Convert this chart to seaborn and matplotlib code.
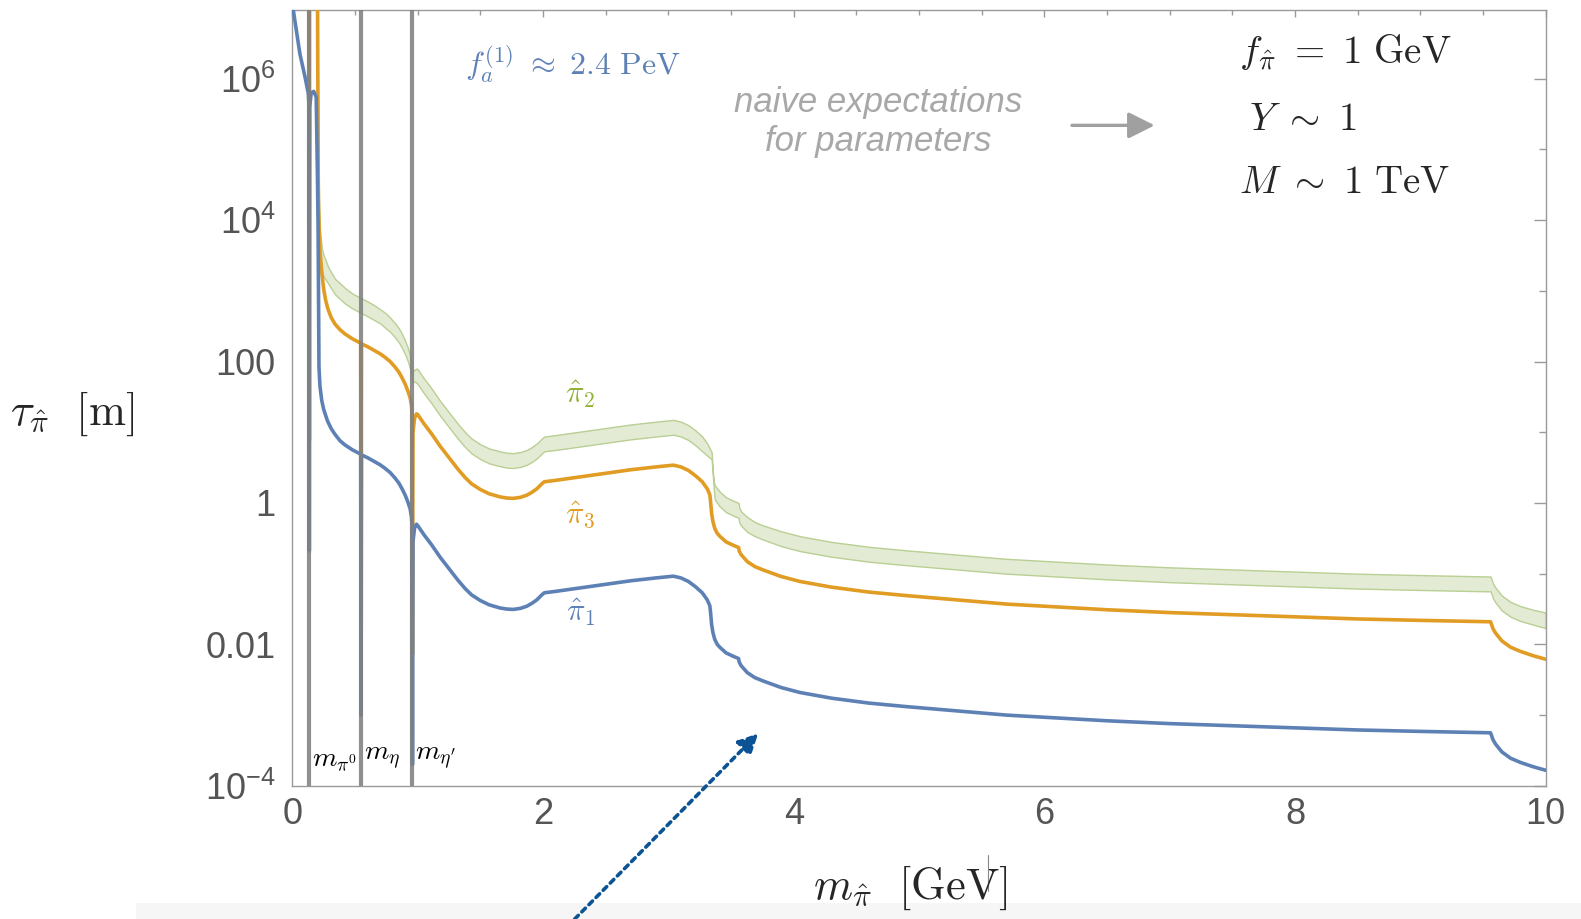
import matplotlib
matplotlib.use("Agg")
import numpy as np
from matplotlib import pyplot as plt
from matplotlib.patches import Rectangle
from matplotlib.lines import Line2D
import seaborn as sns

# ---- data (mass in GeV, log10 of tau in m) ----
mass_pi1 = [0.0, 0.007, 0.03, 0.06, 0.1, 0.127, 0.133, 0.135, 0.138, 0.15, 0.17, 0.19,
            0.2, 0.205, 0.207, 0.21, 0.212, 0.22, 0.234, 0.25, 0.28, 0.31, 0.34, 0.38,
            0.42, 0.48, 0.545, 0.548, 0.551, 0.6, 0.65, 0.7, 0.739, 0.78, 0.82, 0.85,
            0.875, 0.9, 0.92, 0.939, 0.95, 0.954, 0.958, 0.962, 0.975, 0.99, 1.0, 1.05,
            1.11, 1.18, 1.25, 1.32, 1.378, 1.43, 1.5, 1.57, 1.657, 1.71, 1.763, 1.82,
            1.87, 1.91, 1.95, 1.99, 2.01, 2.1, 2.3, 2.46, 2.7, 2.9, 3.04, 3.1,
            3.16, 3.22, 3.27, 3.31, 3.33, 3.335, 3.345, 3.355, 3.37, 3.39, 3.41, 3.46,
            3.52, 3.56, 3.565, 3.58, 3.63, 3.69, 3.76, 3.9, 4.05, 4.3, 4.6, 4.9,
            5.3, 5.7, 6.1, 6.5, 7.0, 7.5, 8.0, 8.5, 9.0, 9.56, 9.58, 9.6,
            9.65, 9.72, 9.8, 9.9, 10.0]
logtau_pi1 = [7.3, 6.97, 6.7, 6.35, 6.03, 5.79, 5.6, -0.68, 5.6, 5.8, 5.82, 5.74,
              4.6, 3.9, 3.33, 2.5, 1.92, 1.65, 1.45, 1.32, 1.16, 1.05, 0.97, 0.88,
              0.82, 0.75, 0.69, -3.0, 0.68, 0.64, 0.59, 0.54, 0.49, 0.43, 0.35, 0.28,
              0.2, 0.11, 0.02, -0.08, -0.2, -0.3, -3.7, -0.55, -0.35, -0.3, -0.32, -0.45,
              -0.59, -0.77, -0.93, -1.09, -1.21, -1.3, -1.38, -1.44, -1.485, -1.5, -1.505, -1.49,
              -1.46, -1.42, -1.37, -1.3, -1.27, -1.25, -1.2, -1.16, -1.1, -1.06, -1.035, -1.06,
              -1.11, -1.19, -1.27, -1.37, -1.45, -1.52, -1.72, -1.83, -1.93, -2.0, -2.04, -2.12,
              -2.17, -2.2, -2.25, -2.3, -2.4, -2.47, -2.52, -2.61, -2.68, -2.76, -2.83, -2.88,
              -2.94, -3.0, -3.04, -3.08, -3.12, -3.15, -3.18, -3.21, -3.23, -3.25, -3.35, -3.41,
              -3.52, -3.61, -3.67, -3.73, -3.78]

mass_pi3 = [0.0, 0.130, 0.133, 0.135, 0.137, 0.2, 0.205, 0.207, 0.212, 0.22, 0.235, 0.25,
            0.265, 0.284, 0.31, 0.34, 0.38, 0.42, 0.48, 0.545, 0.548, 0.551, 0.6, 0.65,
            0.7, 0.739, 0.78, 0.82, 0.85, 0.875, 0.9, 0.92, 0.939, 0.95, 0.954, 0.958,
            0.962, 0.975, 0.99, 1.0, 1.05, 1.11, 1.18, 1.25, 1.32, 1.378, 1.43, 1.5,
            1.57, 1.657, 1.71, 1.763, 1.82, 1.87, 1.91, 1.95, 1.99, 2.01, 2.1, 2.3,
            2.46, 2.7, 2.9, 3.04, 3.1, 3.16, 3.22, 3.27, 3.31, 3.33, 3.335, 3.345,
            3.355, 3.37, 3.39, 3.41, 3.46, 3.52, 3.56, 3.565, 3.58, 3.63, 3.69, 3.76,
            3.9, 4.05, 4.3, 4.6, 4.9, 5.3, 5.7, 6.1, 6.5, 7.0, 7.5, 8.0,
            8.5, 9.0, 9.56, 9.58, 9.6, 9.65, 9.72, 9.8, 9.9, 10.0]
logtau_pi3 = [7.5, 7.5, 7.3, 0.88, 7.3, 7.3, 5.0, 4.28, 3.95, 3.57, 3.25, 3.02,
              2.87, 2.74, 2.62, 2.53, 2.45, 2.39, 2.32, 2.26, -1.46, 2.25, 2.21, 2.16,
              2.11, 2.06, 2.0, 1.92, 1.85, 1.77, 1.68, 1.59, 1.49, 1.38, 1.3, -2.14,
              1.0, 1.2, 1.26, 1.25, 1.12, 0.98, 0.8, 0.64, 0.48, 0.36, 0.27, 0.19,
              0.13, 0.086, 0.07, 0.065, 0.08, 0.11, 0.15, 0.2, 0.27, 0.3, 0.32, 0.37,
              0.41, 0.47, 0.51, 0.535, 0.51, 0.46, 0.38, 0.3, 0.2, 0.12, 0.05, -0.15,
              -0.26, -0.36, -0.43, -0.47, -0.55, -0.6, -0.63, -0.68, -0.73, -0.83, -0.9, -0.95,
              -1.04, -1.11, -1.19, -1.26, -1.31, -1.37, -1.43, -1.47, -1.51, -1.55, -1.58, -1.61,
              -1.64, -1.66, -1.68, -1.78, -1.84, -1.95, -2.04, -2.1, -2.16, -2.21]

mass_pi2 = [0.2, 0.205, 0.21, 0.215, 0.22, 0.235, 0.25, 0.287, 0.34, 0.42, 0.48, 0.545,
            0.6, 0.65, 0.7, 0.739, 0.78, 0.82, 0.85, 0.875, 0.9, 0.92, 0.939, 0.95,
            0.958, 0.97, 0.99, 1.0, 1.05, 1.11, 1.18, 1.25, 1.32, 1.378, 1.43, 1.5,
            1.57, 1.657, 1.71, 1.763, 1.82, 1.87, 1.91, 1.95, 1.99, 2.01, 2.1, 2.3,
            2.46, 2.7, 2.9, 3.04, 3.1, 3.16, 3.22, 3.27, 3.31, 3.33, 3.345, 3.352,
            3.362, 3.37, 3.41, 3.46, 3.52, 3.56, 3.565, 3.58, 3.63, 3.69, 3.76, 3.9,
            4.05, 4.3, 4.6, 4.9, 5.3, 5.7, 6.1, 6.5, 7.0, 7.5, 8.0, 8.5,
            9.0, 9.56, 9.58, 9.6, 9.65, 9.72, 9.8, 9.9, 10.0]
logtau_pi2_hi = [7.3, 5.3, 4.6, 4.1, 3.85, 3.6, 3.5, 3.33, 3.17, 3.04, 2.96, 2.9,
                 2.85, 2.8, 2.74, 2.69, 2.62, 2.54, 2.47, 2.39, 2.29, 2.2, 2.08, 1.98,
                 1.85, 1.88, 1.9, 1.89, 1.76, 1.62, 1.44, 1.28, 1.12, 1.0, 0.91, 0.83,
                 0.77, 0.73, 0.71, 0.705, 0.72, 0.75, 0.79, 0.84, 0.91, 0.94, 0.96, 1.01,
                 1.05, 1.11, 1.15, 1.175, 1.15, 1.1, 1.02, 0.94, 0.84, 0.77, 0.72, 0.5,
                 0.3, 0.25, 0.16, 0.08, 0.03, 0.0, -0.06, -0.12, -0.2, -0.27, -0.32, -0.4,
                 -0.47, -0.55, -0.62, -0.67, -0.73, -0.79, -0.83, -0.87, -0.91, -0.94, -0.97, -1.0,
                 -1.02, -1.04, -1.14, -1.2, -1.31, -1.4, -1.46, -1.51, -1.55]
logtau_pi2_lo = [7.3, 5.0, 4.2, 3.75, 3.45, 3.28, 3.2, 3.1, 2.95, 2.82, 2.75, 2.69,
                 2.64, 2.59, 2.54, 2.48, 2.42, 2.34, 2.27, 2.19, 2.1, 2.01, 1.9, 1.8,
                 1.7, 1.72, 1.7, 1.68, 1.55, 1.41, 1.23, 1.07, 0.91, 0.79, 0.7, 0.62,
                 0.56, 0.52, 0.5, 0.495, 0.51, 0.54, 0.58, 0.63, 0.7, 0.73, 0.75, 0.8,
                 0.84, 0.9, 0.94, 0.965, 0.94, 0.89, 0.81, 0.73, 0.67, 0.64, 0.62, 0.45,
                 0.2, 0.05, -0.05, -0.13, -0.18, -0.21, -0.27, -0.32, -0.41, -0.47, -0.52, -0.61,
                 -0.68, -0.76, -0.83, -0.88, -0.94, -1.0, -1.04, -1.08, -1.12, -1.15, -1.18, -1.21,
                 -1.23, -1.25, -1.35, -1.41, -1.52, -1.61, -1.67, -1.72, -1.77]

meson_masses = [0.135, 0.548, 0.958]
meson_labels = [r"$m_{\pi^0}$", r"$m_{\eta}$", r"$m_{\eta'}$"]

ytick_vals = [1e-4, 1e-2, 1, 1e2, 1e4, 1e6]
ytick_labels = [r"$10^{-4}$", "0.01", "1", "100", r"$10^{4}$", r"$10^{6}$"]
ytick_minor = [1e-3, 1e-1, 1e1, 1e3, 1e5]
xtick_vals = [0, 2, 4, 6, 8, 10]

BLUE = "#5E81B5"
ORANGE = "#E19C24"
GREEN = "#8FB032"
GRAY_TXT = "#555555"

sns.set_style("white")
plt.rcParams["font.family"] = ["Liberation Sans", "DejaVu Sans"]
plt.rcParams["mathtext.fontset"] = "custom"
plt.rcParams["mathtext.rm"] = "Liberation Sans"
plt.rcParams["mathtext.it"] = "Liberation Sans:italic"
plt.rcParams["mathtext.bf"] = "Liberation Sans:bold"

fig = plt.figure(figsize=(15.81, 9.19), dpi=100)
ax = fig.add_axes([290 / 1568, 1 - 779 / 911, (1533 - 290) / 1568, (779 - 10) / 911])

# band for pi_2
ax.fill_between(mass_pi2, 10 ** np.array(logtau_pi2_lo), 10 ** np.array(logtau_pi2_hi),
                facecolor="#E3EBD4", edgecolor="#B9CF93", linewidth=1.0, zorder=2)

sns.lineplot(x=mass_pi3, y=10 ** np.array(logtau_pi3), ax=ax, color=ORANGE, lw=2.6,
             estimator=None, sort=False, zorder=3)
sns.lineplot(x=mass_pi1, y=10 ** np.array(logtau_pi1), ax=ax, color=BLUE, lw=2.6,
             estimator=None, sort=False, zorder=3)

for m in meson_masses:
    ax.axvline(m, color="#808080", lw=3.0, alpha=0.88, zorder=4)

ax.set_yscale("log")
ax.set_xlim(0, 10)
ax.set_ylim(1e-4, 10 ** 6.97)

ax.set_yticks(ytick_vals, labels=ytick_labels)
ax.set_yticks(ytick_minor, minor=True)
ax.set_yticklabels([], minor=True)
ax.set_xticks(xtick_vals, labels=[str(v) for v in xtick_vals])
ax.set_xticks(np.arange(0.5, 10, 0.5), minor=True)
ax.set_xlabel("")
ax.set_ylabel("")

for s in ax.spines.values():
    s.set_color("#9a9a9a")
    s.set_linewidth(1.0)
ax.tick_params(axis="both", which="both", direction="in", top=True, right=True,
               color="#9a9a9a", labelcolor=GRAY_TXT, labelsize=26, width=1.0)
ax.tick_params(axis="y", which="major", length=9, pad=12)
ax.tick_params(axis="y", which="minor", length=5)
ax.tick_params(axis="x", which="major", length=5, pad=8)
ax.tick_params(axis="x", which="minor", length=3.6)

cm = dict(math_fontfamily="cm")

# meson mass labels
for m, lab in zip(meson_masses, meson_labels):
    ax.text(m + 0.02, 0.035, lab, transform=ax.get_xaxis_transform(), fontsize=20,
            ha="left", va="center", color="black", **cm)

# curve labels
ax.text(2.3, 10 ** 1.54, r"$\hat{\pi}_2$", color=GREEN, fontsize=22, ha="center", va="center", **cm)
ax.text(2.3, 10 ** -0.17, r"$\hat{\pi}_3$", color=ORANGE, fontsize=22, ha="center", va="center", **cm)
ax.text(2.3, 10 ** -1.54, r"$\hat{\pi}_1$", color=BLUE, fontsize=22, ha="center", va="center", **cm)

ax.text(1.38, 10 ** 6.2, r"$f_a^{(1)}\ \approx\ 2.4\ \mathrm{PeV}$", color=BLUE, fontsize=23,
        ha="left", va="center", **cm)

# parameter block
ax.text(7.55, 10 ** 6.37, r"$f_{\hat{\pi}}\ =\ 1\ \mathrm{GeV}$", fontsize=28, ha="left", va="center", **cm)
ax.text(7.63, 10 ** 5.42, r"$Y\ \sim\ 1$", fontsize=28, ha="left", va="center", **cm)
ax.text(7.55, 10 ** 4.52, r"$M\ \sim\ 1\ \mathrm{TeV}$", fontsize=28, ha="left", va="center", **cm)

ax.text(4.67, 10 ** 5.66, "naive expectations", color="#A8A8A8", fontsize=25, style="italic",
        ha="center", va="center")
ax.text(4.67, 10 ** 5.11, "for parameters", color="#A8A8A8", fontsize=25, style="italic",
        ha="center", va="center")
ax.annotate("", xy=(6.88, 10 ** 5.34), xytext=(6.22, 10 ** 5.34),
            arrowprops=dict(arrowstyle="-|>", color="#a0a0a0", lw=2.4, mutation_scale=40,
                            shrinkA=0, shrinkB=0))

# axis labels
fig.text(72 / 1568, 1 - 410 / 911, r"$\tau_{\hat{\pi}}\ \ [\mathrm{m}]$", fontsize=32,
         ha="center", va="center", **cm)
fig.text(903 / 1568, 1 - 880 / 911, r"$m_{\hat{\pi}}\ \ [\mathrm{GeV}]$", fontsize=32,
         ha="center", va="center", zorder=5, **cm)

# screenshot strip at the bottom and stray cursor mark
fig.patches.append(Rectangle((135 / 1568, 0), 1, 16 / 911, transform=fig.transFigure,
                             facecolor="#F6F6F6", edgecolor="none", zorder=-1))
fig.lines.append(Line2D([980 / 1568, 980 / 1568], [1 - 848 / 911, 1 - 883 / 911],
                        transform=fig.transFigure, color="#888888", lw=0.8))

# dotted pointer arrow
ax.annotate("", xy=(752 / 1568, 1 - 727 / 911), xytext=(570 / 1568, 0.0),
            xycoords="figure fraction", textcoords="figure fraction",
            arrowprops=dict(arrowstyle="-|>", color="#0B5394", lw=2.6,
                            linestyle=(0, (1.4, 1.4)), mutation_scale=30,
                            shrinkA=0, shrinkB=0),
            annotation_clip=False)

fig.savefig("out.png", dpi=100)
